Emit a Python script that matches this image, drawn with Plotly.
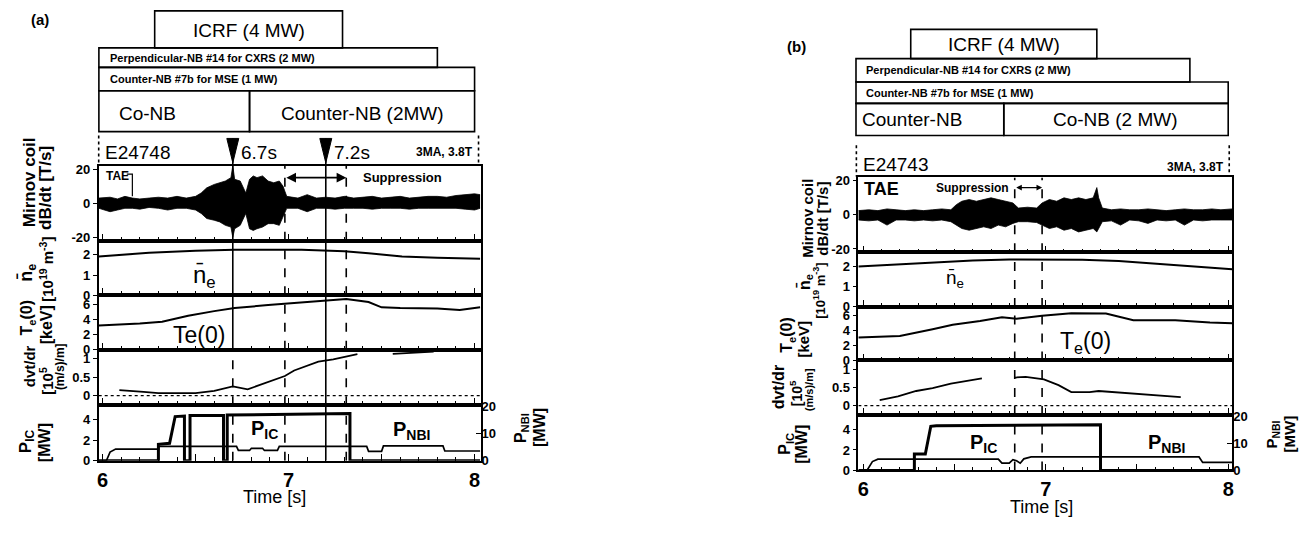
import plotly.graph_objects as go

W, H = 1305, 534
FONT = "Liberation Sans, Arial, Helvetica, sans-serif"

# ---------------- data : panel (a)  shot E24748 ----------------
a_mir_t = [5.98, 6.04, 6.08, 6.12, 6.16, 6.2, 6.25, 6.3, 6.35, 6.4, 6.45, 6.5, 6.53, 6.56, 6.6, 6.63,
           6.66, 6.69, 6.7, 6.71, 6.74, 6.77, 6.79, 6.81, 6.83, 6.86, 6.89, 6.92, 6.95, 6.97, 6.99,
           7.05, 7.1, 7.15, 7.2, 7.25, 7.3, 7.35, 7.4, 7.45, 7.5, 7.55, 7.6, 7.65, 7.7, 7.75, 7.8,
           7.85, 7.9, 7.95, 8.0, 8.03]
a_mir_hi = [3, 3.5, 2.5, 4, 3, 2.5, 3, 3.5, 3, 4, 3, 4, 6, 9, 11, 12, 13, 15, 22, 14, 13, 6, 14, 16,
            15, 16, 13, 12, 13, 10, 4, 3, 5, 3, 3.5, 3, 4, 3, 3.5, 4, 3, 3.5, 4, 3, 3.5, 4, 4,
            3.5, 4.5, 5, 5.5, 5]
a_mir_lo = [-3, -5, -4, -3, -3, -3.5, -2.5, -3, -4, -3, -3, -4, -6, -9, -10, -11, -13, -14, -20, -15,
            -13, -6, -15, -16, -15, -14, -12, -12, -13, -8, -3, -3, -5, -3, -3, -3.5, -3, -3, -3,
            -3.5, -3, -3, -3, -3.5, -3, -3, -3, -3, -3, -3.5, -4, -3]
a_ne_t = [5.98, 6.25, 6.5, 6.71, 7.07, 7.3, 7.43, 7.61, 7.8, 8.03]
a_ne = [1.92, 2.1, 2.2, 2.25, 2.25, 2.18, 2.08, 1.92, 1.85, 1.8]
a_te_t = [5.98, 6.1, 6.2, 6.32, 6.46, 6.6, 6.71, 6.89, 7.0, 7.16, 7.31, 7.43, 7.5, 7.6, 7.69, 7.8, 7.92, 8.03]
a_te = [3.2, 3.3, 3.45, 3.7, 4.5, 5.1, 5.5, 5.9, 6.1, 6.4, 6.7, 6.3, 5.6, 5.5, 5.5, 5.45, 5.25, 5.6]
a_dv1_t = [6.09, 6.15, 6.22, 6.3, 6.4, 6.5, 6.6, 6.7, 6.78, 6.88, 6.98, 7.03, 7.1, 7.16, 7.24, 7.32, 7.37]
a_dv1 = [0.15, 0.12, 0.1, 0.07, 0.07, 0.07, 0.13, 0.25, 0.17, 0.34, 0.53, 0.68, 0.8, 0.92, 0.98, 1.06, 1.12]
a_dv2_t = [7.56, 7.65, 7.78]
a_dv2 = [1.13, 1.16, 1.19]
a_pic_t = [5.98, 6.3, 6.3, 6.36, 6.39, 6.44, 6.44, 6.47, 6.47, 6.65, 6.65, 6.67, 6.67, 7.33, 7.33, 8.03]
a_pic = [0, 0, 1.6, 1.7, 4.3, 4.35, 0, 0, 4.4, 4.4, 0, 0, 4.45, 4.6, 0, 0]
a_pnb_t = [5.98, 6.02, 6.04, 6.07, 6.3, 6.3, 6.72, 6.73, 6.79, 6.8, 6.86, 6.87, 6.94, 6.95, 7.42,
           7.43, 7.5, 7.51, 7.83, 7.84, 8.03]
a_pnb = [0, 0, 3.2, 4.3, 4.3, 5.3, 5.3, 3.8, 3.8, 4.6, 4.6, 3.8, 3.8, 5.3, 5.3, 3.5, 3.5, 5.5, 5.5, 3.6, 3.6]
a_marks = [6.7, 7.2]                      # arrow markers (s)
a_vlines = [6.7, 6.98, 7.2, 7.31]
a_vdash = [["solid", "solid", "solid", "dash", "dash"], ["dash"] * 5, ["solid"] * 5, ["dash"] * 5]
a_supp = [6.98, 7.31]
a_icrf = [6.28, 7.29]
a_perp = [5.98, 7.80]
a_ctr7b = [5.98, 8.0]
a_main = [5.98, 6.79, 8.0]

# ---------------- data : panel (b)  shot E24743 ----------------
b_mir_t = [5.973, 6.03, 6.08, 6.13, 6.18, 6.23, 6.28, 6.33, 6.38, 6.43, 6.48, 6.51, 6.54, 6.58, 6.62,
           6.66, 6.7, 6.74, 6.78, 6.82, 6.85, 6.9, 6.95, 6.98, 7.02, 7.06, 7.1, 7.14, 7.18, 7.22,
           7.26, 7.28, 7.29, 7.31, 7.36, 7.41, 7.46, 7.51, 7.56, 7.61, 7.66, 7.71, 7.76, 7.81, 7.86,
           7.91, 7.96, 8.022]
b_mir_hi = [2.5, 3, 2.5, 3.5, 3, 2.5, 3, 2.5, 3, 3.5, 3, 6, 8, 9, 8, 9, 10, 9, 8, 7, 4, 4.5, 4, 7, 9,
            8, 10, 9, 10, 9, 10, 16, 10, 4, 3, 3.5, 3, 3, 3.5, 3, 2.5, 3, 3.5, 3, 3, 3.5, 3, 3.5]
b_mir_lo = [-3, -3.5, -3, -6, -3, -3, -3.5, -3, -3.5, -3, -4, -6, -8, -9, -8, -7, -8, -6, -7, -5, -4,
            -4, -4.5, -6, -8, -7, -9, -8, -10, -9, -8, -10, -8, -4, -3.5, -6, -3, -3.5, -5, -3,
            -3.5, -3, -6, -3, -3.5, -3, -3, -3]
b_ne_t = [5.973, 6.2, 6.4, 6.6, 6.8, 7.0, 7.2, 7.4, 7.6, 7.8, 8.022]
b_ne = [2.0, 2.1, 2.2, 2.3, 2.35, 2.35, 2.33, 2.27, 2.15, 2.02, 1.86]
b_te_t = [5.973, 6.2, 6.38, 6.49, 6.64, 6.76, 6.84, 6.98, 7.14, 7.33, 7.48, 7.71, 7.9, 8.022]
b_te = [3.1, 3.3, 4.2, 4.8, 5.3, 5.8, 5.6, 6.0, 6.35, 6.3, 5.4, 5.4, 5.1, 5.0]
b_dv1_t = [6.09, 6.19, 6.29, 6.38, 6.48, 6.57, 6.65]
b_dv1 = [0.15, 0.25, 0.4, 0.48, 0.6, 0.69, 0.75]
b_dv2_t = [6.83, 6.89, 6.99, 7.07, 7.14, 7.24, 7.29, 7.43, 7.58, 7.74]
b_dv2 = [0.77, 0.79, 0.72, 0.56, 0.37, 0.37, 0.4, 0.35, 0.28, 0.23]
b_pic_t = [5.973, 6.28, 6.28, 6.34, 6.37, 6.4, 7.3, 7.3, 8.022]
b_pic = [0, 0, 1.6, 1.6, 4.3, 4.35, 4.45, 0, 0]
b_pnb_t = [5.973, 6.02, 6.05, 6.08, 6.74, 6.76, 6.8, 6.82, 6.84, 6.86, 6.88, 6.92, 7.84, 7.86, 8.022]
b_pnb = [0, 0, 3.3, 4.2, 4.2, 2.7, 2.7, 4.0, 3.6, 2.7, 4.3, 5.0, 5.0, 3.0, 3.0]
b_vlines = [6.83, 6.98]
b_vdash = [["dash"] * 5, ["dash"] * 5]
b_supp = [6.83, 6.98]
b_icrf = [6.26, 7.28]
b_perp = [5.96, 7.79]
b_ctr7b = [5.96, 8.0]
b_main = [5.96, 6.77, 8.0]

# y-axis scales of the five stacked rows
y_ranges = [[-22, 22], [0, 2.7], [0, 7.2], [-0.26, 1.24], [0, 5.4]]
y_ticks = [[-20, 0, 20], [0, 1, 2], [0, 2, 4, 6], [0, 0.5, 1], [0, 2, 4]]
y_ticktext = [["-20", "0", "20"], ["0", "1", "2"], ["0", "2", "4", "6"], ["0", "0.5", "1"], ["0", "2", "4"]]
nbi_range = [0, 20.5]
nbi_ticks = [0, 10, 20]
x_ticks = [6, 6.5, 7, 7.5, 8]
x_ticktext = ["6", "", "7", "", "8"]

# ---------------- layout geometry (pixels) ----------------
panels = [
    dict(fx=(97, 480), rows=[(164, 241), (241, 297), (297, 353), (353, 410), (410, 467)],
         xr=[5.979, 8.032]),
    dict(fx=(859, 1234), rows=[(176, 253), (253, 309), (309, 364), (364, 420), (420, 477)],
         xr=[5.973, 8.022]),
]


def px(p):
    return p / W


def py(p):
    return 1 - p / H


def tpx(P, t):
    x0, x1 = P["fx"]
    r0, r1 = P["xr"]
    return x0 + (t - r0) / (r1 - r0) * (x1 - x0)


def sid(k):
    return "" if k == 1 else str(k)


fig = go.Figure()
layout = dict(width=W, height=H, margin=dict(l=0, r=0, t=0, b=0),
              paper_bgcolor="white", plot_bgcolor="white", showlegend=False,
              font=dict(family=FONT, color="black"))

for p, P in enumerate(panels):
    for r in range(5):
        k = p * 5 + r + 1
        top, bot = P["rows"][r]
        layout["xaxis" + sid(k)] = dict(
            domain=[px(P["fx"][0]), px(P["fx"][1])], range=P["xr"], anchor="y" + sid(k),
            showline=True, linecolor="black", linewidth=1.6, mirror=True, showgrid=False,
            zeroline=False, ticks="inside", ticklen=7, tickwidth=1.3, tickcolor="black",
            tickmode="array", tickvals=x_ticks, ticktext=x_ticktext, showticklabels=(r == 4),
            tickfont=dict(size=20, family=FONT, weight="bold"),
            minor=dict(tickmode="linear", tick0=6, dtick=0.1, ticks="inside", ticklen=4,
                       tickwidth=1.2, tickcolor="black", showgrid=False))
        layout["yaxis" + sid(k)] = dict(
            domain=[py(bot), py(top)], range=y_ranges[r], anchor="x" + sid(k),
            showline=True, linecolor="black", linewidth=1.6, mirror=True, showgrid=False,
            zeroline=False, ticks="outside", ticklen=4, tickwidth=1.3, tickcolor="black",
            tickmode="array", tickvals=y_ticks[r], ticktext=y_ticktext[r],
            tickfont=dict(size=13, family=FONT, weight="bold"))
    kr = 11 + p
    layout["yaxis" + str(kr)] = dict(
        overlaying="y" + str(p * 5 + 5), side="right", anchor="x" + str(p * 5 + 5),
        range=nbi_range, showgrid=False, zeroline=False, showline=False,
        ticks="inside", ticklen=5, tickwidth=1.3, tickcolor="black",
        tickmode="array", tickvals=nbi_ticks, ticktext=[str(v) for v in nbi_ticks],
        tickfont=dict(size=13, family=FONT, weight="bold"))


def line(t, v, k, width=1.7, dash="solid", yax=None):
    fig.add_trace(go.Scatter(x=t, y=v, mode="lines", xaxis="x" + sid(k),
                             yaxis=yax if yax else "y" + sid(k),
                             line=dict(color="black", width=width, dash=dash),
                             hoverinfo="skip", showlegend=False))


def band(t, hi, lo, k):
    fig.add_trace(go.Scatter(x=t, y=hi, mode="lines", xaxis="x" + sid(k), yaxis="y" + sid(k),
                             line=dict(color="black", width=0.8), hoverinfo="skip"))
    fig.add_trace(go.Scatter(x=t, y=lo, mode="lines", xaxis="x" + sid(k), yaxis="y" + sid(k),
                             fill="tonexty", fillcolor="black",
                             line=dict(color="black", width=0.8), hoverinfo="skip"))


series = [
    dict(mir=(a_mir_t, a_mir_hi, a_mir_lo), ne=(a_ne_t, a_ne), te=(a_te_t, a_te),
         dv=[(a_dv1_t, a_dv1), (a_dv2_t, a_dv2)], pic=(a_pic_t, a_pic), pnb=(a_pnb_t, a_pnb)),
    dict(mir=(b_mir_t, b_mir_hi, b_mir_lo), ne=(b_ne_t, b_ne), te=(b_te_t, b_te),
         dv=[(b_dv1_t, b_dv1), (b_dv2_t, b_dv2)], pic=(b_pic_t, b_pic), pnb=(b_pnb_t, b_pnb)),
]

for p, S in enumerate(series):
    k0 = p * 5
    band(*S["mir"], k0 + 1)
    line(*S["ne"], k0 + 2, width=2)
    line(*S["te"], k0 + 3, width=2)
    line(panels[p]["xr"], [0, 0], k0 + 4, width=1.3, dash="dot")
    for seg in S["dv"]:
        line(*seg, k0 + 4, width=1.8)
    line(*S["pnb"], k0 + 5, width=1.7, yax="y" + str(11 + p))
    line(*S["pic"], k0 + 5, width=3)

shapes = []
annotations = []


def box(P, t0, t1, top, bot):
    shapes.append(dict(type="rect", xref="paper", yref="paper", x0=px(tpx(P, t0)), x1=px(tpx(P, t1)),
                       y0=py(bot), y1=py(top), line=dict(color="black", width=1.6)))


def text(x, y, s, size, xanchor="center", yanchor="middle", angle=0, bold=False):
    annotations.append(dict(xref="paper", yref="paper", x=px(x), y=py(y), text=("<b>%s</b>" % s) if bold else s,
                            showarrow=False, xanchor=xanchor, yanchor=yanchor, textangle=angle,
                            font=dict(family=FONT, size=size, color="black")))


def vlines(p, times, dashes):
    for t, ds in zip(times, dashes):
        for r in range(5):
            k = p * 5 + r + 1
            shapes.append(dict(type="line", xref="x" + sid(k), yref="y" + sid(k), x0=t, x1=t,
                               y0=y_ranges[r][0], y1=y_ranges[r][1],
                               line=dict(color="black", width=1.6, dash=ds[r])))


# ---- panel (a) decorations ----
Pa, Pb = panels
box(Pa, *a_icrf, 5, 43)
box(Pa, *a_perp, 43, 63)
box(Pa, *a_ctr7b, 63, 87)
box(Pa, a_main[0], a_main[1], 87, 129)
box(Pa, a_main[1], a_main[2], 87, 129)
text((tpx(Pa, a_icrf[0]) + tpx(Pa, a_icrf[1])) / 2, 25, "ICRF (4 MW)", 19)
text(tpx(Pa, a_perp[0]) + 9, 53, "Perpendicular-NB #14 for CXRS (2 MW)", 11, xanchor="left", bold=True)
text(tpx(Pa, a_ctr7b[0]) + 9, 75, "Counter-NB #7b for MSE (1 MW)", 11, xanchor="left", bold=True)
text(tpx(Pa, a_main[0]) + 18, 110, "Co-NB", 19, xanchor="left")
text((tpx(Pa, a_main[1]) + tpx(Pa, a_main[2])) / 2, 110, "Counter-NB (2MW)", 19)
text(101, 150, "E24748", 19, xanchor="left")
text(474, 150, "3MA, 3.8T", 12, xanchor="right", bold=True)
for xx in (97, 478):
    shapes.append(dict(type="line", xref="paper", yref="paper", x0=px(xx), x1=px(xx), y0=py(133), y1=py(164),
                       line=dict(color="black", width=1.6, dash="dot")))
for t in a_marks:
    xm = tpx(Pa, t)
    shapes.append(dict(type="path", xref="paper", yref="paper",
                       path="M %f %f L %f %f L %f %f Z" % (px(xm - 6), py(136), px(xm + 6), py(136), px(xm), py(161)),
                       fillcolor="black", line=dict(color="black", width=1)))
    shapes.append(dict(type="line", xref="paper", yref="paper", x0=px(xm), x1=px(xm), y0=py(136), y1=py(164),
                       line=dict(color="black", width=1.6)))
    text(xm + 6, 150, "%.1fs" % t, 19, xanchor="left")
vlines(0, a_vlines, a_vdash)
annotations.append(dict(xref="x", yref="y", x=a_supp[1], y=15, ax=a_supp[0], ay=15, axref="x", ayref="y",
                        text="", showarrow=True, arrowhead=2, arrowside="end+start", arrowsize=1.2,
                        arrowwidth=1.6, arrowcolor="black"))
annotations.append(dict(xref="x", yref="y", x=7.39, y=15, text="<b>Suppression</b>", showarrow=False,
                        xanchor="left", font=dict(family=FONT, size=13, color="black")))
annotations.append(dict(xref="x", yref="y", x=6.005, y=16, text="<b>TAE</b>", showarrow=False,
                        xanchor="left", font=dict(family=FONT, size=12, color="black")))
shapes.append(dict(type="path", xref="x", yref="y", path="M 6.13 17 L 6.16 17 L 6.16 4",
                   line=dict(color="black", width=1.2)))
annotations.append(dict(xref="x2", yref="y2", x=6.55, y=0.95, text="n̄<sub>e</sub>", showarrow=False,
                        font=dict(family=FONT, size=24, color="black")))
annotations.append(dict(xref="x3", yref="y3", x=6.52, y=2.0, text="Te(0)", showarrow=False,
                        font=dict(family=FONT, size=23, color="black")))
annotations.append(dict(xref="x5", yref="y5", x=6.87, y=3.0, text="<b>P<sub>IC</sub></b>", showarrow=False,
                        font=dict(family=FONT, size=20, color="black")))
annotations.append(dict(xref="x5", yref="y5", x=7.66, y=2.9, text="<b>P<sub>NBI</sub></b>", showarrow=False,
                        font=dict(family=FONT, size=20, color="black")))
text(38, 14, "(a)", 15, bold=True)
text(273, 504, "Time [s]", 18)
# y-axis titles (a)
text(27, 181, "Mirnov coil", 17, angle=-90, bold=True)
text(43, 187, "dB/dt [T/s]", 17, angle=-90, bold=True)
text(26, 274, "n̄<sub>e</sub>", 18, angle=-90, bold=True)
text(45, 270, "[10<sup>19</sup> m<sup>-3</sup>]", 15, angle=-90, bold=True)
text(26, 320, "T<sub>e</sub>(0)", 16, angle=-90, bold=True)
text(45, 327, "[keV]", 16, angle=-90, bold=True)
text(27, 370, "dvt/dr", 15, angle=-90, bold=True)
text(45, 385, "[10<sup>5</sup>", 15, angle=-90, bold=True)
text(58, 370, "(m/s)/m]", 12, angle=-90, bold=True)
text(25, 447, "P<sub>IC</sub>", 17, angle=-90, bold=True)
text(42, 448, "[MW]", 16, angle=-90, bold=True)
text(521, 433, "P<sub>NBI</sub>", 16, angle=-90, bold=True)
text(539, 433, "[MW]", 16, angle=-90, bold=True)

# ---- panel (b) decorations ----
box(Pb, *b_icrf, 24, 54)
box(Pb, *b_perp, 54, 78)
box(Pb, *b_ctr7b, 78, 100)
box(Pb, b_main[0], b_main[1], 100, 133)
box(Pb, b_main[1], b_main[2], 100, 133)
text((tpx(Pb, b_icrf[0]) + tpx(Pb, b_icrf[1])) / 2, 40, "ICRF (4 MW)", 19)
text(tpx(Pb, b_perp[0]) + 8, 66, "Perpendicular-NB #14 for CXRS (2 MW)", 11, xanchor="left", bold=True)
text(tpx(Pb, b_ctr7b[0]) + 8, 89, "Counter-NB #7b for MSE (1 MW)", 11, xanchor="left", bold=True)
text(tpx(Pb, b_main[0]) + 4, 117, "Counter-NB", 19, xanchor="left")
text((tpx(Pb, b_main[1]) + tpx(Pb, b_main[2])) / 2, 117, "Co-NB (2 MW)", 19)
text(862, 163, "E24743", 19, xanchor="left")
text(1228, 165, "3MA, 3.8T", 12, xanchor="right", bold=True)
for xx in (857, 1231):
    shapes.append(dict(type="line", xref="paper", yref="paper", x0=px(xx), x1=px(xx), y0=py(143), y1=py(175),
                       line=dict(color="black", width=1.6, dash="dot")))
vlines(1, b_vlines, b_vdash)
annotations.append(dict(xref="x6", yref="y6", x=b_supp[1], y=16, ax=b_supp[0], ay=16, axref="x6", ayref="y6",
                        text="", showarrow=True, arrowhead=2, arrowside="end+start", arrowsize=0.8,
                        arrowwidth=1.4, arrowcolor="black"))
annotations.append(dict(xref="x6", yref="y6", x=6.81, y=16, text="<b>Suppression</b>", showarrow=False,
                        xanchor="right", font=dict(family=FONT, size=12, color="black")))
annotations.append(dict(xref="x6", yref="y6", x=5.995, y=15, text="<b>TAE</b>", showarrow=False,
                        xanchor="left", font=dict(family=FONT, size=18, color="black")))
annotations.append(dict(xref="x7", yref="y7", x=6.5, y=1.4, text="n̄<sub>e</sub>", showarrow=False,
                        font=dict(family=FONT, size=19, color="black")))
annotations.append(dict(xref="x8", yref="y8", x=7.22, y=2.4, text="T<sub>e</sub>(0)", showarrow=False,
                        font=dict(family=FONT, size=23, color="black")))
annotations.append(dict(xref="x10", yref="y10", x=6.66, y=2.6, text="<b>P<sub>IC</sub></b>", showarrow=False,
                        font=dict(family=FONT, size=20, color="black")))
annotations.append(dict(xref="x10", yref="y10", x=7.66, y=2.6, text="<b>P<sub>NBI</sub></b>", showarrow=False,
                        font=dict(family=FONT, size=20, color="black")))
text(797, 42, "(b)", 15, bold=True)
text(1043, 514, "Time [s]", 18)
text(808, 218, "Mirnov coil", 15, angle=-90, bold=True)
text(823, 218, "dB/dt [T/s]", 15, angle=-90, bold=True)
text(805, 284, "n̄<sub>e</sub>", 16, angle=-90, bold=True)
text(820, 292, "[10<sup>19</sup> m<sup>-3</sup>]", 13, angle=-90, bold=True)
text(788, 338, "T<sub>e</sub>(0)", 16, angle=-90, bold=True)
text(803, 342, "[keV]", 15, angle=-90, bold=True)
text(779, 392, "dvt/dr", 16, angle=-90, bold=True)
text(796, 398, "[10<sup>5</sup>", 14, angle=-90, bold=True)
text(809, 394, "(m/s)/m]", 11, angle=-90, bold=True)
text(786, 450, "P<sub>IC</sub>", 16, angle=-90, bold=True)
text(802, 450, "[MW]", 16, angle=-90, bold=True)
text(1274, 440, "P<sub>NBI</sub>", 15, angle=-90, bold=True)
text(1291, 440, "[MW]", 15, angle=-90, bold=True)

layout["shapes"] = shapes
layout["annotations"] = annotations
fig.update_layout(**layout)
fig.write_html("out.html", config={"displayModeBar": False})
